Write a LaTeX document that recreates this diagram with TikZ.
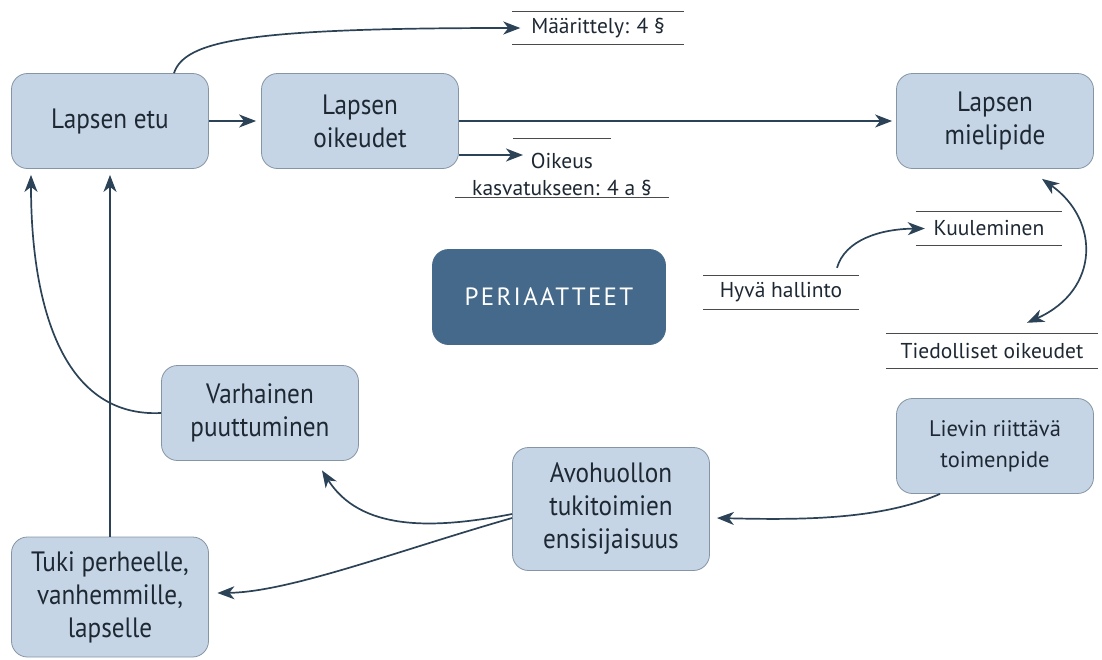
\documentclass[tikz,border=0pt]{standalone}
\usepackage{fontspec}
\setmainfont{PT Sans}
\newfontfamily\boxfont[FakeStretch=0.9]{PT Sans}
\newfontfamily\headfont[LetterSpace=9]{PT Sans}
\usetikzlibrary{arrows.meta}
\definecolor{boxfill}{HTML}{C5D5E5}
\definecolor{boxline}{HTML}{8595A5}
\definecolor{ink}{HTML}{1E2833}
\definecolor{arrowcol}{HTML}{2C4357}
\definecolor{headfill}{HTML}{44698A}
\definecolor{rulecol}{HTML}{4A4A4A}
\tikzset{>={Stealth[length=17pt,width=13pt,inset=5pt]}}

\begin{document}
\begin{tikzpicture}[x=1pt, y=-1pt,
  box/.style={draw=boxline, line width=0.8pt, fill=boxfill, rounded corners=16pt,
    minimum width=197pt, minimum height=95pt, align=center, text=ink,
    font=\boxfont\fontsize{28}{33}\selectfont},
  tag/.style={minimum height=33pt, inner sep=0pt, align=center, text=ink,
    font=\fontsize{21.5}{27}\selectfont},
  rule/.style={draw=rulecol, line width=0.9pt},
  conn/.style={draw=arrowcol, line width=1.7pt, ->}]
\useasboundingbox (0,0) rectangle (1102,659);

% boxes
\node[box] (etu) at (110,121) {Lapsen etu};
\node[box] (oik) at (360,121) {Lapsen\\oikeudet};
\node[box] (miel) at (995,121) {Lapsen\\mielipide};
\node[box, fill=headfill, draw=headfill, minimum width=233pt, text=white,
  font=\headfont\fontsize{25}{30}\selectfont] (peri) at (549,297) {PERIAATTEET};
\node[box] (varh) at (260,413) {Varhainen\\puuttuminen};
\node[box, minimum height=123pt] (avoh) at (611,509) {Avohuollon\\tukitoimien\\ensisijaisuus};
\node[box, font=\fontsize{22.5}{31}\selectfont] (liev) at (995,446) {Lievin riittävä\\toimenpide};
\node[box, minimum height=120pt] (tuki) at (110,597) {Tuki perheelle,\\vanhemmille,\\lapselle};

% ruled labels
\node[tag, minimum width=171pt] (maar) at (598,28) {Määrittely: 4 §};
\node[tag] (oikeus) at (562,174.5) {Oikeus\\kasvatukseen: 4 a §};
\node[tag, minimum width=146pt] (kuul) at (989,228.5) {Kuuleminen};
\node[tag, minimum width=156pt] (hyva) at (781,292.5) {Hyvä hallinto};
\node[tag, minimum width=212pt, minimum height=34pt] (tied) at (992,351) {Tiedolliset oikeudet};
\foreach \n in {maar,kuul,hyva,tied}
  \draw[rule] (\n.north west) -- (\n.north east) (\n.south west) -- (\n.south east);
\draw[rule] ([shift={(-49,-36.5)}]oikeus.center) -- ([shift={(49,-36.5)}]oikeus.center);
\draw[rule] ([shift={(-107,22.5)}]oikeus.center) -- ([shift={(107,22.5)}]oikeus.center);
\coordinate (oiktip) at ([shift={(-39,-19.5)}]oikeus.center);

% connectors
\draw[conn] ([xshift=64pt]etu.north) .. controls (185,40) and (250,28) .. ([xshift=8pt]maar.west);
\draw[conn, shorten >=5pt] (etu) -- (oik);
\draw[conn, shorten >=4pt] (oik) -- (miel);
\draw[conn] ([yshift=-34pt]oik.east) -- (oiktip);
\draw[conn, shorten >=6pt] (tuki) -- (etu);
\draw[conn, shorten >=6pt] (varh.west) .. controls (60,418) and (31,300) .. ([xshift=-79pt]etu.south);
\draw[conn] ([yshift=-5pt]avoh.west) .. controls (430,530) and (360,530) .. ([shift={(62,9.5)}]varh.south);
\draw[conn] ([yshift=-9pt]avoh.west) .. controls (400,550) and (290,592) .. ([shift={(8.5,-4)}]tuki.east);
\draw[conn] ([xshift=-55pt]liev.south) .. controls (880,520) and (800,520) .. ([shift={(7,9)}]avoh.east);
\draw[conn] ([xshift=56pt,yshift=8pt]hyva.north) .. controls (845,240) and (880,229) .. ([xshift=9pt]kuul.west);
\draw[conn, <->] ([shift={(47,10)}]miel.south) .. controls (1100,220) and (1100,290) .. ([shift={(35,-11)}]tied.north);
\end{tikzpicture}
\end{document}
